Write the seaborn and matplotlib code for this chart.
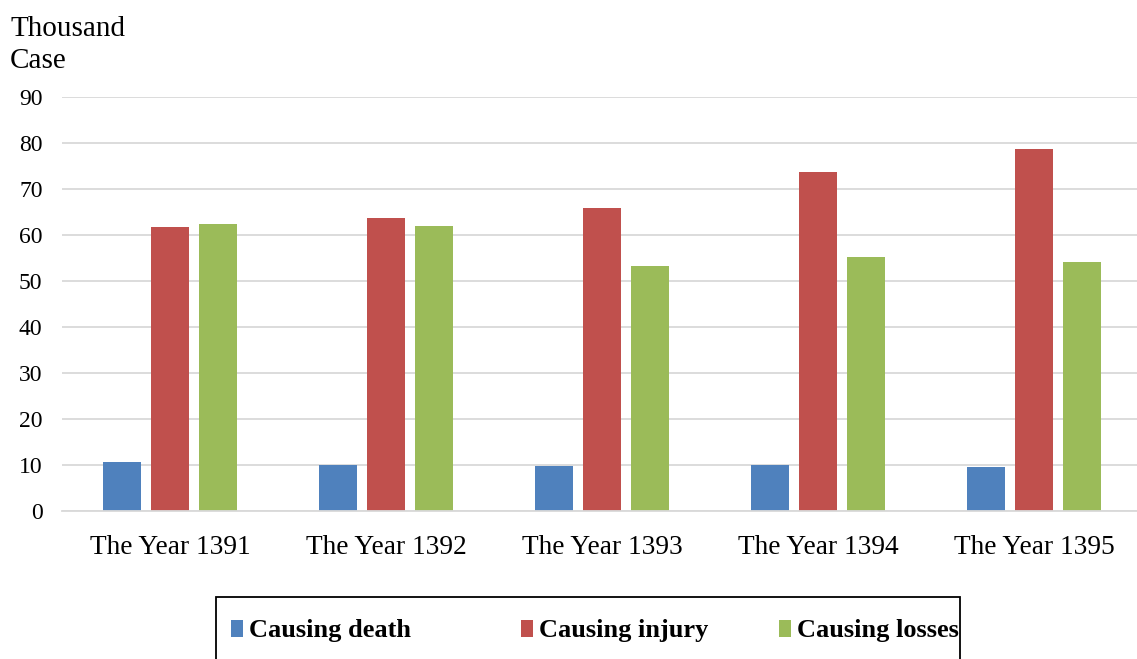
import numpy as np
import pandas as pd
import seaborn as sns
import matplotlib.pyplot as plt
from matplotlib.patches import Rectangle

# values (thousand cases)
years = ["The Year 1391", "The Year 1392", "The Year 1393", "The Year 1394", "The Year 1395"]
death = [10.7, 10.1, 9.8, 9.9, 9.6]
injury = [61.7, 63.6, 65.8, 73.8, 78.7]
losses = [62.3, 62.0, 53.3, 55.3, 54.1]
series = ["Causing death", "Causing injury", "Causing losses"]
colors = ["#4F81BD", "#C0504D", "#9BBB59"]

df = pd.DataFrame({
    "year": years * 3,
    "value": death + injury + losses,
    "type": [series[0]] * 5 + [series[1]] * 5 + [series[2]] * 5,
})

sns.set_style("white")
plt.rcParams['font.family'] = ['Liberation Serif', 'DejaVu Serif']
plt.rcParams['text.color'] = 'black'
plt.rcParams['xtick.color'] = 'black'
plt.rcParams['ytick.color'] = 'black'

fig = plt.figure(figsize=(11.37, 6.59), dpi=100)
ax = fig.add_axes([62 / 1137, 1 - 511 / 659, 1 - 62 / 1137, (511 - 97) / 659])

sns.barplot(data=df, x="year", y="value", hue="type", palette=colors,
            width=0.667, gap=0.21, linewidth=0, saturation=1, ax=ax)

ax.set_ylim(0, 90)
ax.set_yticks(np.arange(0, 91, 10))
ax.set_xlim(-0.5, -0.5 + 1075 / 216)
ax.grid(axis="y", color="#d9d9d9", linewidth=1.3)
ax.set_axisbelow(True)
for s in ["top", "right", "left"]:
    ax.spines[s].set_visible(False)
ax.spines["bottom"].set_color("#d9d9d9")
ax.spines["bottom"].set_linewidth(1.3)
ax.tick_params(axis="y", length=0, pad=14, labelsize=17)
ax.tick_params(axis="x", length=0, pad=17, labelsize=19.7)
ax.set_xlabel("")
ax.set_ylabel("")

fig.text(10 / 1137, 1 - 16 / 659, "Thousand\nCase", ha="left", va="top",
         fontsize=21, linespacing=1.32)

# one legend entry per series, spaced like the original
handles, labels = ax.get_legend_handles_labels()
ax.get_legend().remove()
legend_x = [218, 508, 766]
for h, l, x in zip(handles, labels, legend_x):
    fig.legend([h], [l], loc="center left",
               bbox_to_anchor=(x / 1137, 1 - 631 / 659), frameon=False,
               borderpad=0, handlelength=0.45, handleheight=0.6,
               handletextpad=0.22,
               prop={"family": "Liberation Serif", "weight": "bold", "size": 19})
fig.add_artist(Rectangle((216 / 1137, -0.1), (960 - 216) / 1137, 0.1 + 1 - 597 / 659,
                         transform=fig.transFigure, fill=False,
                         edgecolor="black", linewidth=1.3))

fig.savefig("out.png", dpi=100)
